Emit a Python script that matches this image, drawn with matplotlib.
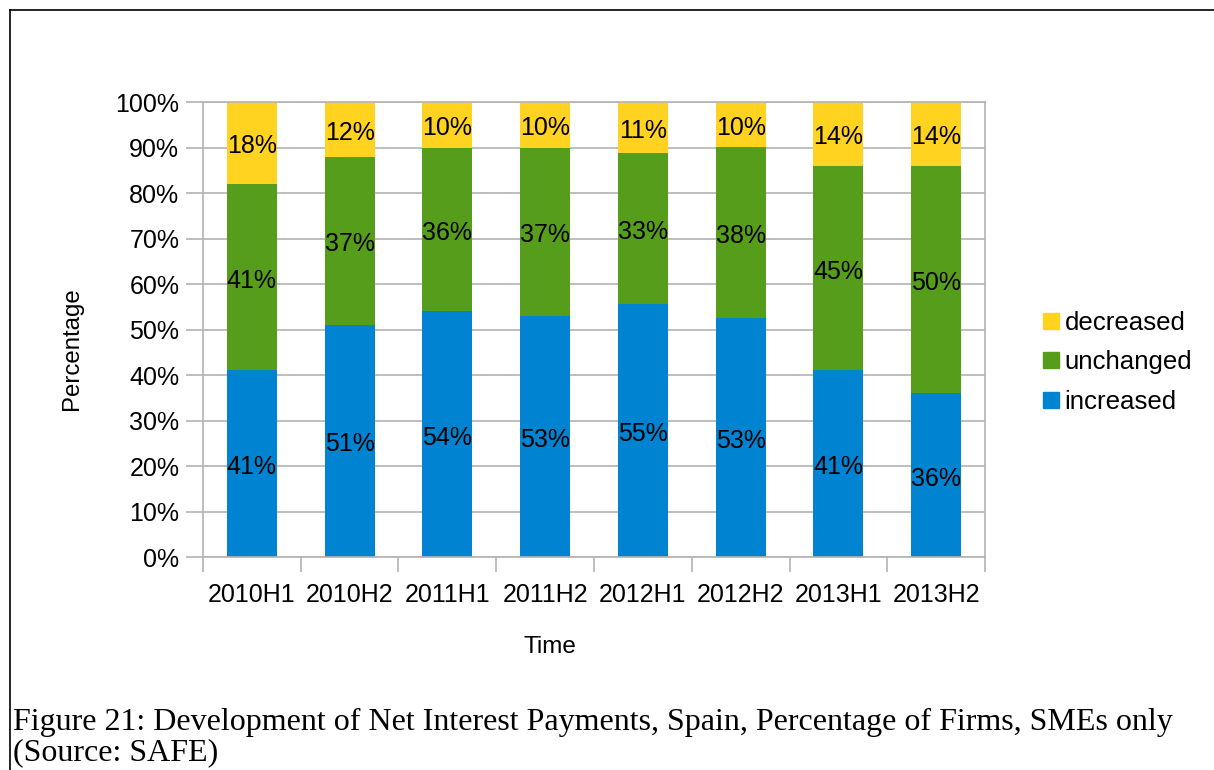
import numpy as np
import matplotlib.pyplot as plt
from matplotlib.lines import Line2D

# Data (percent of firms, as labelled)
periods = ['2010H1', '2010H2', '2011H1', '2011H2', '2012H1', '2012H2', '2013H1', '2013H2']
increased = [41, 51, 54, 53, 55, 53, 41, 36]
unchanged = [41, 37, 36, 37, 33, 38, 45, 50]
decreased = [18, 12, 10, 10, 11, 10, 14, 14]

series = [('increased', increased, '#0084d1'),
          ('unchanged', unchanged, '#579d1c'),
          ('decreased', decreased, '#ffd320')]

# 100% stacked: normalise each period to its total
totals = np.array(increased) + np.array(unchanged) + np.array(decreased)

plt.rcParams['font.family'] = ['Liberation Sans', 'DejaVu Sans']

fig = plt.figure(figsize=(12.14, 7.70), dpi=100)
ax = fig.add_axes([0.1672, 0.2766, 0.6442, 0.5909])

x = np.arange(len(periods))
bottom = np.zeros(len(periods))
handles = []
for name, vals, color in series:
    share = np.array(vals) / totals * 100
    ax.bar(x, share, width=0.51, bottom=bottom, color=color, zorder=2)
    for xi, b, s, v in zip(x, bottom, share, vals):
        ax.annotate(f'{v}%', (xi, b + s / 2), xytext=(0, -2.5), textcoords='offset points',
                    ha='center', va='center', fontsize=18, zorder=3)
    bottom += share
    handles.append(Line2D([], [], marker='s', linestyle='none', markersize=11,
                          markerfacecolor=color, markeredgecolor=color, label=name))

ax.set_xlim(-0.5, len(periods) - 0.5)
ax.set_ylim(0, 100)
ax.set_yticks(np.arange(0, 101, 10))
ax.set_yticklabels([f'{v}%' for v in range(0, 101, 10)])
ax.yaxis.grid(True, color='#b3b3b3', linewidth=1.2, zorder=0)
ax.set_axisbelow(True)

ax.set_xticks(x)
ax.set_xticklabels(periods)
ax.set_xticks(np.arange(-0.5, len(periods)), minor=True)
ax.tick_params(axis='x', which='major', length=0, pad=19, labelsize=18)
ax.tick_params(axis='x', which='minor', length=11, width=1.2, color='#b3b3b3')
ax.tick_params(axis='y', length=12, width=1.2, color='#b3b3b3', pad=5, labelsize=18)

for sp in ax.spines.values():
    sp.set_color('#b3b3b3')
    sp.set_linewidth(1.2)

ax.set_ylabel('Percentage', fontsize=17.3)
ax.yaxis.set_label_coords(-0.153, 0.459)
ax.set_xlabel('Time', fontsize=17.5)
ax.xaxis.set_label_coords(0.444, -0.173)

leg = fig.legend(handles=handles[::-1], loc='center left', bbox_to_anchor=(0.836, 0.5295),
                 frameon=False, fontsize=18.6, handletextpad=0.02, labelspacing=0.6,
                 handlelength=1.0)

# outer frame (top and left edges)
fig.add_artist(Line2D([0.0085, 1.0], [0.987, 0.987], color='black', linewidth=1.2,
                      transform=fig.transFigure))
fig.add_artist(Line2D([0.0085, 0.0085], [0.0, 0.987], color='black', linewidth=1.2,
                      transform=fig.transFigure))

fig.text(0.011, 0.013,
         'Figure 21: Development of Net Interest Payments, Spain, Percentage of Firms, SMEs only\n'
         '(Source: SAFE)',
         fontsize=23, family=['Liberation Serif', 'DejaVu Serif'], ha='left', va='baseline',
         linespacing=1.05)

fig.savefig('out.png', dpi=100)
